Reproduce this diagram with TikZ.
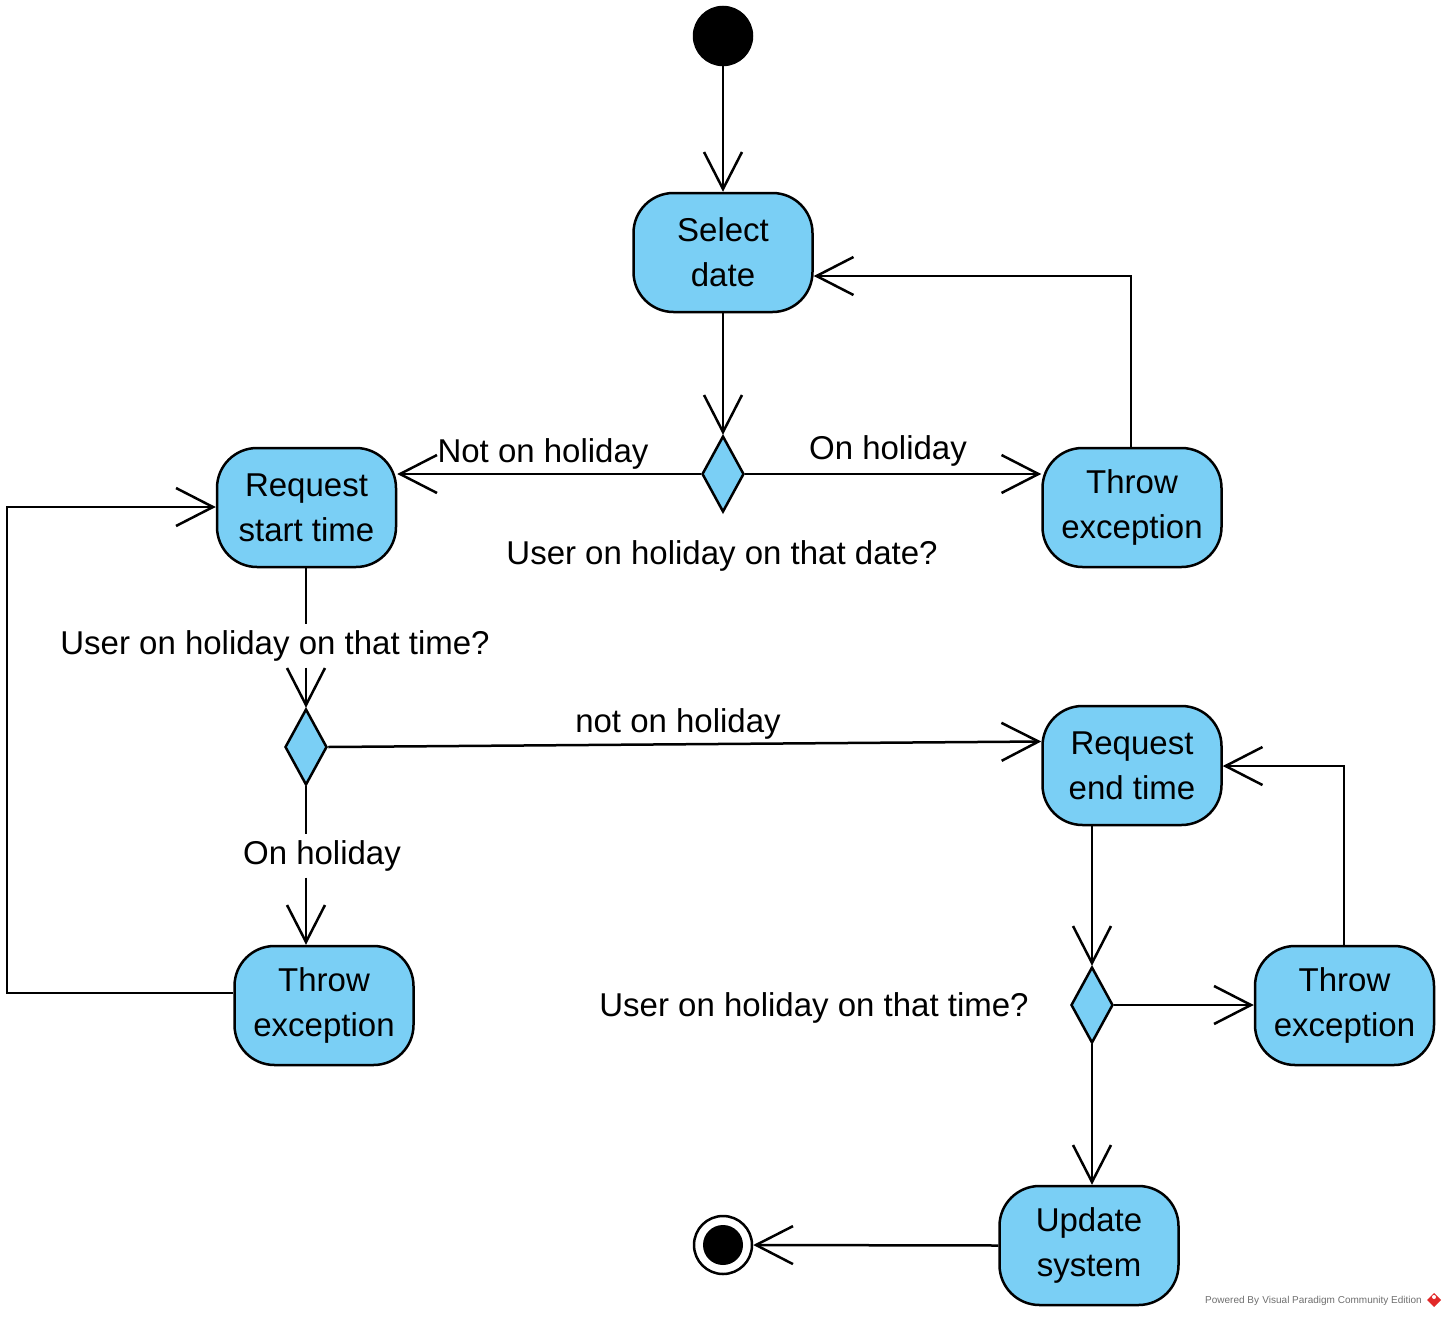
\documentclass[tikz,border=0pt]{standalone}
\usepackage{fontspec}
\setmainfont{Liberation Sans}
\usetikzlibrary{arrows.meta,shapes.geometric,calc}
\definecolor{actfill}{RGB}{122,207,245}
\definecolor{wmgrey}{RGB}{110,110,110}
\definecolor{wmred}{RGB}{225,40,40}
\begin{document}
\begin{tikzpicture}[x=1pt,y=-1pt,line width=2.5pt,
  action/.style={draw,fill=actfill,rounded corners=40pt,minimum width=179pt,minimum height=119pt,
    align=center,font=\fontsize{33}{45}\selectfont,inner sep=0pt},
  decision/.style={draw,fill=actfill,diamond,minimum width=42pt,minimum height=76pt,inner sep=0pt},
  flow/.style={-{Straight Barb[length=37pt,width=38pt,line width=2.5pt]}},
  lbl/.style={font=\fontsize{33}{40}\selectfont,inner xsep=2pt,inner ysep=5pt}]
\useasboundingbox (0,0) rectangle (1446,1317);

% start and end
\node[draw,fill=black,circle,minimum size=58pt,inner sep=0pt] (start) at (723,36) {};
\node[draw,fill=white,circle,minimum size=58pt,inner sep=0pt] (final) at (723,1245) {};
\fill (final.center) circle (20pt);

% actions
\node[action] (sel) at (723,252.5) {Select\\date};
\node[action] (rst) at (306.5,507.5) {Request\\start time};
\node[action] (thr1) at (1132,507.5) {Throw\\exception};
\node[action] (ret) at (1132,765.5) {Request\\end time};
\node[action] (thr2) at (324,1005.5) {Throw\\exception};
\node[action] (thr3) at (1344.5,1005.5) {Throw\\exception};
\node[action] (upd) at (1089,1245.5) {Update\\system};

% decisions
\node[decision] (d1) at (723,474) {};
\node[decision] (d2) at (306,747) {};
\node[decision] (d3) at (1092,1005) {};

% guards and questions
\node[lbl] (g1) at (543,454) {Not on holiday};
\node[lbl] (g2) at (888,451) {On holiday};
\node[lbl] (q1) at (722,556) {User on holiday on that date?};
\node[lbl] (q2) at (275,646) {User on holiday on that time?};
\node[lbl] (g3) at (678,724) {not on holiday};
\node[lbl] (g4) at (322,856) {On holiday};
\node[lbl] (q3) at (814,1008) {User on holiday on that time?};

% flows
\draw[flow] (start) -- (sel);
\draw[flow] (sel) -- (d1);
\draw[flow] (d1.west) -- (rst.east |- d1.west);
\draw[flow] (d1.east) -- (thr1.west |- d1.east);
\draw[flow] (thr1.north -| 1131,0) -- (1131,276) -- (sel.east |- 0,276);
\draw (rst.south -| d2.north) -- (q2.north -| d2.north);
\draw[flow] (q2.south -| d2.north) -- (d2.north);
\draw[flow] (d2.east) -- ($(ret.west)+(0,-24)$);
\draw (d2.south) -- (g4.north -| d2.south);
\draw[flow] (g4.south -| d2.south) -- (d2.south |- thr2.north);
\draw[flow] (thr2.west |- 0,993) -- (7,993) -- (7,507) -- (rst.west |- 0,507);
\draw[flow] (ret.south -| d3.north) -- (d3.north);
\draw[flow] (d3.east) -- (thr3.west |- d3.east);
\draw[flow] (thr3.north -| 1344,0) -- (1344,766) -- (ret.east |- 0,766);
\draw[flow] (d3.south) -- (d3.south |- upd.north);
\draw[flow] (upd.west) -- (final.east);

% footer
\node[anchor=east,text=wmgrey,font=\fontsize{10}{11}\selectfont,inner sep=0pt] (wm) at (1423,1301) {Powered By\,\,Visual Paradigm Community Edition};
\fill[wmred] (1434,1293) -- (1441,1300) -- (1434,1307) -- (1427,1300) -- cycle;
\fill[white] (1434,1297) circle (2pt);
\end{tikzpicture}
\end{document}
